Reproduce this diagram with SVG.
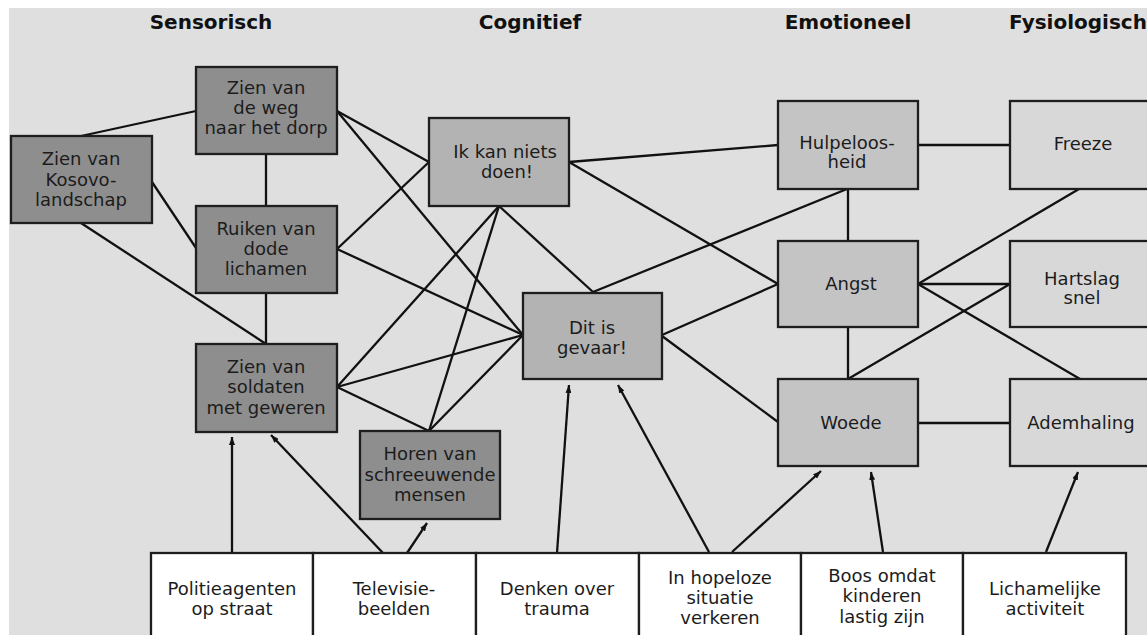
<svg xmlns="http://www.w3.org/2000/svg" width="1147" height="635" viewBox="0 0 1147 635">
<defs>
<marker id="ah" viewBox="0 0 8 6" refX="8" refY="3" markerWidth="8" markerHeight="6" markerUnits="userSpaceOnUse" orient="auto">
<path d="M0,0 L8,3 L0,6 Z" fill="#111"/>
</marker>
<style>
.bg{fill:#dfdfdf}
.box{stroke:#1e1e1e;stroke-width:2.3}
.sen{fill:#8e8e8e}
.cog{fill:#b3b3b3}
.emo{fill:#c4c4c4}
.fys{fill:#d8d8d8}
.src{fill:#ffffff}
.t{font-family:"DejaVu Sans","Open Sans",sans-serif;font-size:18px;fill:#1c1c1c;text-anchor:middle}
.h{font-family:"DejaVu Sans","Open Sans",sans-serif;font-size:20px;font-weight:bold;fill:#111;text-anchor:middle}
.ln{stroke:#111;stroke-width:2.3;fill:none}
.ar{stroke:#111;stroke-width:2.3;fill:none;marker-end:url(#ah)}
</style>
</defs>
<rect x="0" y="0" width="1147" height="635" fill="#ffffff"/>
<rect class="bg" x="9" y="8" width="1138" height="627"/>

<g id="headers">
<text class="h" x="211" y="29">Sensorisch</text>
<text class="h" x="530" y="29">Cognitief</text>
<text class="h" x="848" y="29">Emotioneel</text>
<text class="h" x="1078" y="29">Fysiologisch</text>
</g>

<g id="connectors">
<line class="ln" x1="81" y1="136" x2="196" y2="111"/>
<line class="ln" x1="152" y1="182" x2="196" y2="248"/>
<line class="ln" x1="81" y1="223" x2="266" y2="344"/>
<line class="ln" x1="266" y1="154" x2="266" y2="206"/>
<line class="ln" x1="266" y1="293" x2="266" y2="344"/>
<line class="ln" x1="337" y1="111" x2="429" y2="162"/>
<line class="ln" x1="337" y1="111" x2="523" y2="335"/>
<line class="ln" x1="337" y1="249" x2="429" y2="162"/>
<line class="ln" x1="337" y1="249" x2="523" y2="335"/>
<line class="ln" x1="337" y1="387" x2="499" y2="206"/>
<line class="ln" x1="337" y1="387" x2="523" y2="335"/>
<line class="ln" x1="337" y1="387" x2="429" y2="431"/>
<line class="ln" x1="429" y1="431" x2="499" y2="206"/>
<line class="ln" x1="429" y1="431" x2="523" y2="335"/>
<line class="ln" x1="499" y1="206" x2="593" y2="292"/>
<line class="ln" x1="569" y1="162" x2="778" y2="145"/>
<line class="ln" x1="569" y1="162" x2="778" y2="284"/>
<line class="ln" x1="593" y1="292" x2="847" y2="189"/>
<line class="ln" x1="662" y1="335" x2="778" y2="284"/>
<line class="ln" x1="662" y1="336" x2="778" y2="422"/>
<line class="ln" x1="918" y1="145" x2="1010" y2="145"/>
<line class="ln" x1="848" y1="189" x2="848" y2="241"/>
<line class="ln" x1="848" y1="327" x2="848" y2="379"/>
<line class="ln" x1="1079" y1="189" x2="918" y2="284"/>
<line class="ln" x1="918" y1="284" x2="1010" y2="284"/>
<line class="ln" x1="1010" y1="284" x2="848" y2="379"/>
<line class="ln" x1="918" y1="284" x2="1080" y2="379"/>
<line class="ln" x1="918" y1="423" x2="1010" y2="423"/>
<line class="ar" x1="232" y1="553" x2="232" y2="437"/>
<line class="ar" x1="383" y1="553" x2="271" y2="435"/>
<line class="ar" x1="407" y1="553" x2="427" y2="523"/>
<line class="ar" x1="557" y1="553" x2="569" y2="385"/>
<line class="ar" x1="709" y1="552" x2="618" y2="385"/>
<line class="ar" x1="732" y1="552" x2="821" y2="471"/>
<line class="ar" x1="883" y1="552" x2="871" y2="472"/>
<line class="ar" x1="1046" y1="552" x2="1078" y2="472"/>
</g>

<g id="n-kosovo">
<rect class="box sen" x="11" y="136" width="141" height="87"/>
<text class="t" x="81" y="165">Zien van</text>
<text class="t" x="81" y="186">Kosovo-</text>
<text class="t" x="81" y="206">landschap</text>
</g>
<g id="n-weg">
<rect class="box sen" x="196" y="67" width="141" height="87"/>
<text class="t" x="266" y="94">Zien van</text>
<text class="t" x="266" y="114">de weg</text>
<text class="t" x="266" y="134">naar het dorp</text>
</g>
<g id="n-ruiken">
<rect class="box sen" x="196" y="206" width="141" height="87"/>
<text class="t" x="266" y="235">Ruiken van</text>
<text class="t" x="266" y="255">dode</text>
<text class="t" x="266" y="275">lichamen</text>
</g>
<g id="n-soldaten">
<rect class="box sen" x="196" y="344" width="141" height="88"/>
<text class="t" x="266" y="373">Zien van</text>
<text class="t" x="266" y="393">soldaten</text>
<text class="t" x="266" y="414">met geweren</text>
</g>
<g id="n-horen">
<rect class="box sen" x="360" y="431" width="140" height="88"/>
<text class="t" x="430" y="460">Horen van</text>
<text class="t" x="430" y="481">schreeuwende</text>
<text class="t" x="430" y="501">mensen</text>
</g>
<g id="n-ikkan">
<rect class="box cog" x="429" y="118" width="140" height="88"/>
<text class="t" x="505" y="158">Ik kan niets</text>
<text class="t" x="507" y="178">doen!</text>
</g>
<g id="n-gevaar">
<rect class="box cog" x="523" y="293" width="139" height="86"/>
<text class="t" x="592" y="334">Dit is</text>
<text class="t" x="592" y="354">gevaar!</text>
</g>
<g id="n-hulpeloos">
<rect class="box emo" x="778" y="101" width="140" height="88"/>
<text class="t" x="847" y="149">Hulpeloos-</text>
<text class="t" x="847" y="168">heid</text>
</g>
<g id="n-angst">
<rect class="box emo" x="778" y="241" width="140" height="86"/>
<text class="t" x="851" y="290">Angst</text>
</g>
<g id="n-woede">
<rect class="box emo" x="778" y="379" width="140" height="87"/>
<text class="t" x="851" y="429">Woede</text>
</g>
<g id="n-freeze">
<rect class="box fys" x="1010" y="101" width="145" height="88"/>
<text class="t" x="1083" y="150">Freeze</text>
</g>
<g id="n-hartslag">
<rect class="box fys" x="1010" y="241" width="145" height="86"/>
<text class="t" x="1082" y="285">Hartslag</text>
<text class="t" x="1082" y="304">snel</text>
</g>
<g id="n-ademhaling">
<rect class="box fys" x="1010" y="379" width="145" height="87"/>
<text class="t" x="1081" y="429">Ademhaling</text>
</g>

<g id="n-politie">
<rect class="box src" x="151" y="553" width="162" height="90"/>
<text class="t" x="232" y="595">Politieagenten</text>
<text class="t" x="232" y="615">op straat</text>
</g>
<g id="n-televisie">
<rect class="box src" x="313" y="553" width="163" height="90"/>
<text class="t" x="394" y="595">Televisie-</text>
<text class="t" x="394" y="615">beelden</text>
</g>
<g id="n-denken">
<rect class="box src" x="476" y="553" width="163" height="90"/>
<text class="t" x="557" y="595">Denken over</text>
<text class="t" x="557" y="615">trauma</text>
</g>
<g id="n-hopeloos">
<rect class="box src" x="639" y="553" width="162" height="90"/>
<text class="t" x="720" y="584">In hopeloze</text>
<text class="t" x="720" y="604">situatie</text>
<text class="t" x="720" y="624">verkeren</text>
</g>
<g id="n-boos">
<rect class="box src" x="801" y="553" width="162" height="90"/>
<text class="t" x="882" y="582">Boos omdat</text>
<text class="t" x="882" y="602">kinderen</text>
<text class="t" x="882" y="623">lastig zijn</text>
</g>
<g id="n-lichamelijk">
<rect class="box src" x="963" y="553" width="163" height="90"/>
<text class="t" x="1045" y="595">Lichamelijke</text>
<text class="t" x="1045" y="615">activiteit</text>
</g>
</svg>
